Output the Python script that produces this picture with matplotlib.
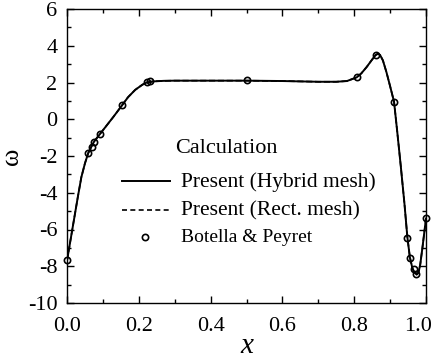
import numpy as np
import matplotlib.pyplot as plt
from matplotlib.ticker import MultipleLocator

plt.rcParams['font.family'] = ['Liberation Serif', 'DejaVu Serif']

# vorticity along the wall, present computation
x_curve = [0.0, 0.01, 0.02, 0.03, 0.04, 0.05, 0.059, 0.069, 0.076, 0.092,
           0.11, 0.13, 0.153, 0.17, 0.19, 0.21, 0.222, 0.24, 0.27, 0.30,
           0.40, 0.50, 0.60, 0.70, 0.75, 0.78, 0.807, 0.82, 0.835, 0.85,
           0.86, 0.866, 0.872, 0.88, 0.89, 0.90, 0.911, 0.92, 0.93, 0.94,
           0.948, 0.955, 0.962, 0.968, 0.974, 0.979, 0.984, 0.99, 0.995, 1.0]
w_curve = [-7.7, -6.55, -5.4, -4.25, -3.15, -2.4, -1.85, -1.45, -1.2, -0.8,
           -0.35, 0.15, 0.75, 1.2, 1.6, 1.88, 2.0, 2.06, 2.09, 2.1,
           2.1, 2.1, 2.08, 2.04, 2.04, 2.08, 2.28, 2.5, 2.85, 3.25,
           3.5, 3.56, 3.5, 3.2, 2.55, 1.8, 0.95, -0.7, -2.6, -4.6,
           -6.4, -7.5, -8.1, -8.35, -8.45, -8.35, -7.9, -7.0, -6.2, -5.4]

# Botella & Peyret reference values
x_ref = [0.0, 0.059, 0.069, 0.076, 0.092, 0.153, 0.222, 0.232, 0.5,
         0.807, 0.861, 0.911, 0.948, 0.955, 0.967, 0.972, 1.0]
w_ref = [-7.66, -1.85, -1.49, -1.22, -0.82, 0.78, 2.04, 2.07, 2.12,
         2.28, 3.5, 0.95, -6.48, -7.53, -8.17, -8.42, -5.39]

fig = plt.figure(figsize=(4.32, 3.64), dpi=100)
ax = fig.add_axes([67/432, 61/364, 359/432, 294/364])

ax.plot(x_curve, w_curve, '--', color='black', lw=1.2)
ax.plot(x_curve, w_curve, '-', color='black', lw=1.4)
ax.plot(x_ref, w_ref, 'o', mfc='none', mec='black', ms=4.5, mew=1.2,
        clip_on=False)

ax.set_xlim(0, 1.0)
ax.set_ylim(-10, 6)
ax.xaxis.set_major_locator(MultipleLocator(0.2))
ax.xaxis.set_minor_locator(MultipleLocator(0.1))
ax.yaxis.set_major_locator(MultipleLocator(2))
ax.yaxis.set_minor_locator(MultipleLocator(1))
# the 1.0 label is placed by hand below so it stays on the canvas
ax.xaxis.set_major_formatter(lambda v, p: "" if v > 0.99 else f"{v:.1f}")
ax.yaxis.set_major_formatter(lambda v, p: f"{v:g}".replace('\u2212', '-'))
ax.tick_params(which='both', direction='in', top=True, right=True,
               width=1.0, labelsize=16)
ax.tick_params(axis='x', which='major', length=5, pad=10)
ax.tick_params(axis='y', which='major', length=5, pad=7)
ax.tick_params(which='minor', length=3)
for s in ax.spines.values():
    s.set_linewidth(1.0)

ax.annotate('1.0', xy=(1.0, 0), xycoords=('data', 'axes fraction'),
            xytext=(4.3, -10), textcoords='offset points',
            ha='right', va='top', fontsize=16, annotation_clip=False)

ax.set_xlabel('x', fontsize=21, style='italic', labelpad=-2)
ax.set_ylabel('\u03c9', fontsize=19, labelpad=3)

# hand-made legend
tr = ax.transAxes
ax.text(0.301, 0.527, 'Calculation', transform=tr, fontsize=16,
        va='center', ha='left')
ax.plot([0.153, 0.287], [0.415, 0.415], '-', color='black', lw=1.4,
        transform=tr)
ax.text(0.318, 0.412, 'Present (Hybrid mesh)', transform=tr,
        fontsize=15.5, va='center', ha='left')
ax.plot([0.153, 0.287], [0.316, 0.316], '--', color='black', lw=1.2,
        dashes=(3, 2), transform=tr)
ax.text(0.318, 0.313, 'Present (Rect. mesh)', transform=tr,
        fontsize=15.5, va='center', ha='left')
ax.plot([0.217], [0.224], 'o', mfc='none', mec='black', ms=4.5, mew=1.2,
        transform=tr)
ax.text(0.318, 0.224, 'Botella & Peyret', transform=tr, fontsize=14,
        va='center', ha='left')

fig.savefig('out.png', dpi=100)
